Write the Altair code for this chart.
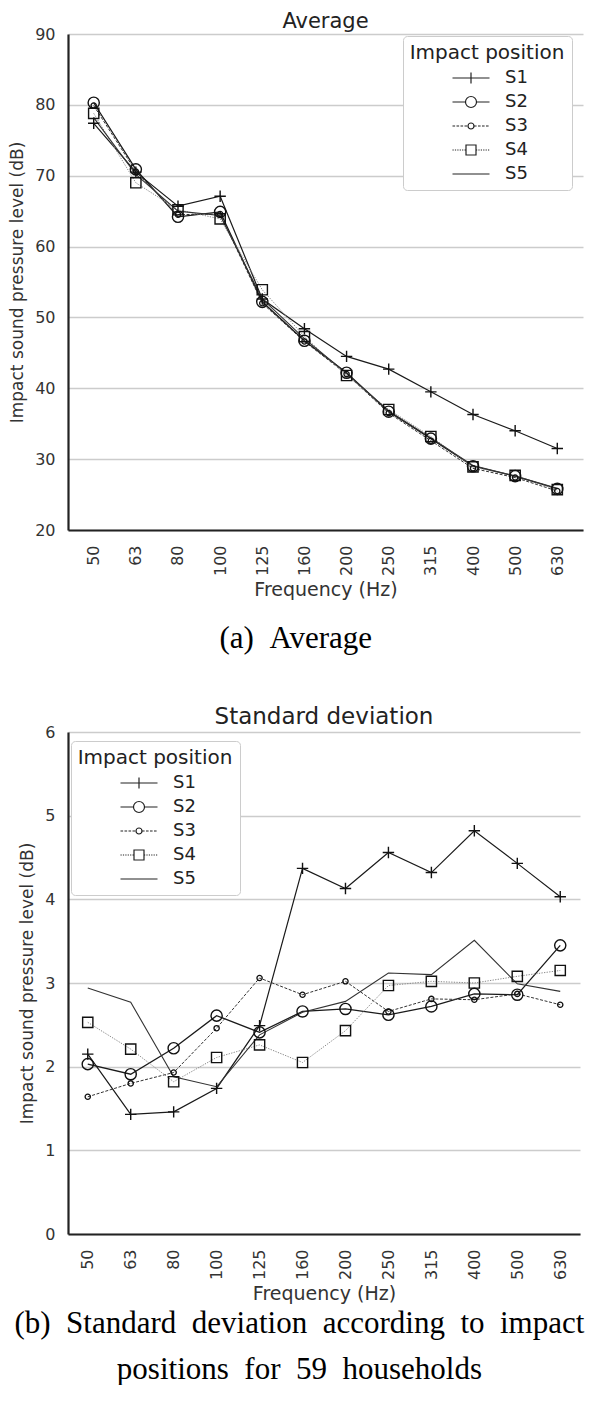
import altair as alt
import pandas as pd

freqs = ["50", "63", "80", "100", "125", "160", "200", "250", "315", "400", "500", "630"]
series = ["S1", "S2", "S3", "S4", "S5"]

avg_s1 = [77.4, 70.5, 65.7, 67.1, 52.6, 48.4, 44.5, 42.7, 39.5, 36.3, 34.0, 31.5]
avg_s2 = [80.3, 70.9, 64.2, 64.9, 52.2, 46.7, 42.2, 36.7, 32.9, 29.0, 27.6, 25.8]
avg_s3 = [79.9, 70.6, 64.5, 64.6, 52.0, 46.6, 42.0, 36.5, 32.6, 28.7, 27.4, 25.5]
avg_s4 = [78.8, 69.0, 65.2, 63.9, 53.9, 47.3, 41.8, 37.0, 33.2, 28.9, 27.7, 25.7]
avg_s5 = [78.2, 70.2, 65.0, 64.4, 52.6, 47.0, 42.1, 36.8, 33.0, 29.1, 27.6, 25.9]

sd_s1 = [2.15, 1.43, 1.46, 1.74, 2.49, 4.37, 4.13, 4.56, 4.32, 4.82, 4.43, 4.03]
sd_s2 = [2.03, 1.91, 2.22, 2.61, 2.41, 2.66, 2.69, 2.62, 2.72, 2.87, 2.86, 3.45]
sd_s3 = [1.64, 1.80, 1.93, 2.46, 3.06, 2.86, 3.02, 2.66, 2.81, 2.80, 2.87, 2.74]
sd_s4 = [2.53, 2.21, 1.82, 2.11, 2.26, 2.05, 2.43, 2.97, 3.02, 3.00, 3.08, 3.15]
sd_s5 = [2.94, 2.77, 1.88, 1.76, 2.38, 2.65, 2.78, 3.12, 3.10, 3.51, 2.99, 2.90]

avg_ticks = [20, 30, 40, 50, 60, 70, 80, 90]
sd_ticks = [0, 1, 2, 3, 4, 5, 6]

title_a = "Average"
title_b = "Standard deviation"
x_title = "Frequency (Hz)"
y_title = "Impact sound pressure level (dB)"
legend_title = "Impact position"
caption_a = "(a)\u2002Average"
caption_b = ["(b)\u2002Standard\u2002deviation\u2002according\u2002to\u2002impact",
             "positions\u2002for\u200259\u2002households"]


def long_df(cols):
    rows = []
    for s, vals in zip(series, cols):
        for f, v in zip(freqs, vals):
            rows.append({"freq": f, "series": s, "value": v})
    return pd.DataFrame(rows)


df_avg = long_df([avg_s1, avg_s2, avg_s3, avg_s4, avg_s5])
df_sd = long_df([sd_s1, sd_s2, sd_s3, sd_s4, sd_s5])

line_style = {
    "S1": dict(color="#1a1a1a", strokeWidth=1.2),
    "S2": dict(color="#1a1a1a", strokeWidth=1.3),
    "S3": dict(color="#333333", strokeWidth=1.0, strokeDash=[3, 1.6]),
    "S4": dict(color="#8a8a8a", strokeWidth=1.0, strokeDash=[1.3, 1.3]),
    "S5": dict(color="#333333", strokeWidth=1.1),
}
PLUS = "M-1,0H1M0,-1V1"
marker_style = {
    "S1": dict(shape=PLUS, size=130, strokeWidth=1.4),
    "S2": dict(shape="circle", size=125, strokeWidth=1.4),
    "S3": dict(shape="circle", size=28, strokeWidth=1.3),
    "S4": dict(shape="square", size=105, strokeWidth=1.4),
}


def seg_line(x0, x1, on, off):
    parts = []
    x = x0
    while x < x1 - 0.01:
        e = min(x + on, x1)
        parts.append(f"M{x:.2f},0H{e:.2f}")
        x = e + off
    return "".join(parts)


def circ(r):
    return f"M{-r},0A{r},{r},0,1,0,{r},0A{r},{r},0,1,0,{-r},0"


L = 18.5
legend_paths = [
    f"M{-L},0H{L}M0,-5.5V5.5",
    f"M{-L},0H-5.5M5.5,0H{L}" + circ(5.5),
    seg_line(-L, -3, 2.6, 1.4) + seg_line(3, L, 2.6, 1.4) + circ(3),
    seg_line(-L, -5, 1.2, 1.2) + seg_line(5, L, 1.2, 1.2) + "M-5,-5H5V5H-5Z",
    f"M{-L},0H{L}",
]


def panel(df, title, tfs, toff, ydom, yticks, width, height, xpad, xtp, lx, ly):
    base = alt.Chart(df)
    x = alt.X("freq:N", sort=freqs,
              scale=alt.Scale(type="point", domain=freqs, padding=xpad),
              axis=alt.Axis(title=x_title, labelAngle=-90, labelPadding=15,
                            titlePadding=xtp, labelFontSize=16, titleFontSize=19))
    y = alt.Y("value:Q", scale=alt.Scale(domain=ydom, nice=False, zero=False),
              axis=alt.Axis(values=yticks, title=y_title, labelPadding=13,
                            titlePadding=8, labelFontSize=16, titleFontSize=17))
    layers = []
    for s in series:
        layers.append(base.transform_filter(alt.datum.series == s)
                      .mark_line(**line_style[s]).encode(x=x, y=y))
    for s, st in marker_style.items():
        layers.append(base.transform_filter(alt.datum.series == s)
                      .mark_point(filled=False, color="#111111", opacity=1, **st)
                      .encode(x=x, y=y))
    legend_layer = base.transform_filter("false").mark_point(
        filled=False, color="#222222", opacity=1).encode(
        x=x, y=y,
        shape=alt.Shape("series:N",
                        scale=alt.Scale(domain=series, range=legend_paths),
                        legend=alt.Legend(title=legend_title, orient="none",
                                          legendX=lx, legendY=ly)))
    layers.append(legend_layer)
    return alt.layer(*layers).properties(
        width=width, height=height,
        title=alt.TitleParams(title, fontSize=tfs, font="DejaVu Sans",
                              fontWeight="normal", color="#222222",
                              offset=toff))


chart_a = panel(df_avg, title_a, 21, -6, [20, 90], avg_ticks, 515, 496, 0.61, 5, 335, 2)
chart_b = panel(df_sd, title_b, 23, -5, [0, 6], sd_ticks, 512, 502, 0.46, 5, 3, 9)

cap_style = dict(orient="bottom", font="Liberation Serif", fontSize=31,
                 fontWeight="normal", color="#000000", anchor="middle")
pa = alt.vconcat(chart_a, title=alt.TitleParams(caption_a, offset=24, **cap_style))
pb = alt.vconcat(chart_b, title=alt.TitleParams(caption_b, offset=5, lineHeight=46,
                                                **cap_style))

chart = alt.concat(pa, pb, columns=1, spacing=52).resolve_scale(
    shape="independent"
).resolve_legend(shape="independent").properties(
    padding={"top": 3, "left": 0, "right": 0, "bottom": 0},
    background="white",
).configure_axis(
    labelFont="DejaVu Sans", titleFont="DejaVu Sans", labelColor="#333333",
    titleColor="#333333", titleFontWeight="normal", gridColor="#cccccc",
    gridWidth=1.6, domainColor="#222222", domainWidth=2.2, ticks=False,
    tickSize=0,
).configure_view(strokeWidth=0).configure_legend(
    fillColor="white", strokeColor="#cccccc", cornerRadius=4, padding=7,
    titleFont="DejaVu Sans", titleFontSize=20, titleFontWeight="normal",
    titleColor="#222222", labelFont="DejaVu Sans", labelFontSize=18,
    labelColor="#222222", symbolSize=4, symbolStrokeWidth=1.2,
    symbolStrokeColor="#222222", symbolOffset=16, labelOffset=25,
    rowPadding=6, titlePadding=6, titleAnchor="middle",
)

chart.save("out.html", embed_options={"renderer": "svg", "actions": False})
